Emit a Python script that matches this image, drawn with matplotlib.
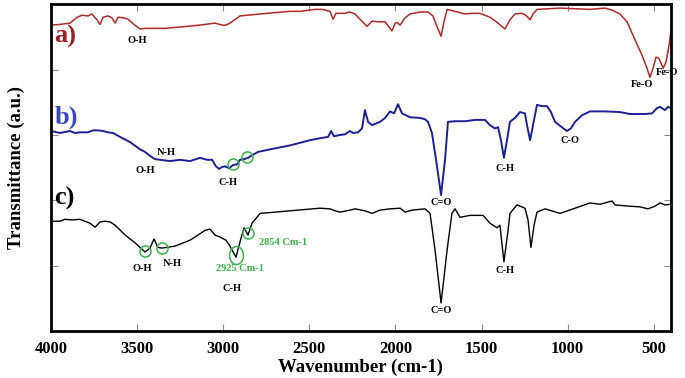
import matplotlib
matplotlib.use("Agg")
import matplotlib.pyplot as plt
from matplotlib.markers import MarkerStyle
from matplotlib.transforms import Affine2D

# ---- data (wavenumber, transmittance a.u.) ----
wn_a = [4000, 3948, 3890, 3849, 3820, 3785, 3762, 3733, 3715, 3698, 3669, 3646, 3628, 3611,
        3576, 3553, 3518, 3483, 3454, 3396, 3338, 3251, 3135, 3048, 3007, 2984, 2961, 2902,
        2786, 2612, 2554, 2496, 2467, 2426, 2380, 2362, 2345, 2293, 2264, 2235, 2206, 2165,
        2136, 2101, 2060, 2020, 2002, 1991, 1973, 1944, 1915, 1857, 1811, 1782, 1759, 1735,
        1718, 1700, 1654, 1596, 1555, 1509, 1451, 1404, 1364, 1335, 1306, 1265, 1242, 1218,
        1201, 1178, 1044, 870, 783, 742, 696, 655, 608, 568, 539, 522, 504, 487, 469, 446,
        429, 411, 400]
tr_a = [4.68, 4.69, 4.71, 4.80, 4.83, 4.82, 4.85, 4.76, 4.69, 4.80, 4.82, 4.79, 4.71, 4.80,
        4.79, 4.77, 4.69, 4.62, 4.63, 4.63, 4.63, 4.65, 4.68, 4.71, 4.68, 4.68, 4.71, 4.82,
        4.85, 4.89, 4.89, 4.91, 4.92, 4.92, 4.89, 4.77, 4.86, 4.86, 4.88, 4.85, 4.77, 4.66,
        4.74, 4.73, 4.73, 4.59, 4.71, 4.72, 4.68, 4.79, 4.85, 4.88, 4.88, 4.82, 4.66, 4.51,
        4.73, 4.92, 4.89, 4.85, 4.86, 4.86, 4.80, 4.71, 4.62, 4.76, 4.85, 4.86, 4.83, 4.76,
        4.85, 4.92, 4.94, 4.92, 4.94, 4.91, 4.85, 4.73, 4.45, 4.22, 4.02, 3.88, 4.02, 4.19,
        4.17, 4.02, 4.11, 4.37, 4.60]

wn_b = [4000, 3948, 3890, 3861, 3832, 3785, 3756, 3727, 3698, 3669, 3640, 3599, 3541, 3483,
        3454, 3425, 3396, 3367, 3309, 3251, 3193, 3135, 3094, 3065, 3042, 3024, 3007, 2990,
        2966, 2943, 2920, 2902, 2879, 2856, 2833, 2798, 2728, 2612, 2496, 2438, 2391, 2374,
        2357, 2322, 2293, 2264, 2246, 2217, 2194, 2177, 2159, 2136, 2090, 2060, 2031, 2008,
        1985, 1962, 1915, 1857, 1828, 1811, 1788, 1764, 1735, 1712, 1695, 1654, 1596, 1538,
        1480, 1451, 1422, 1404, 1387, 1370, 1352, 1335, 1306, 1277, 1248, 1236, 1218, 1201,
        1178, 1149, 1120, 1097, 1073, 1044, 1004, 981, 957, 917, 870, 783, 696, 638, 551,
        510, 481, 464, 435, 417, 400]
tr_b = [3.06, 3.03, 3.06, 3.03, 3.04, 3.04, 3.07, 3.07, 3.06, 3.04, 3.03, 2.97, 2.89, 2.78,
        2.74, 2.68, 2.63, 2.62, 2.60, 2.62, 2.60, 2.65, 2.62, 2.62, 2.52, 2.48, 2.51, 2.52,
        2.49, 2.54, 2.55, 2.62, 2.63, 2.65, 2.69, 2.74, 2.78, 2.84, 2.92, 2.95, 2.97, 3.06,
        2.98, 3.00, 3.01, 3.06, 3.03, 3.04, 3.10, 3.38, 3.20, 3.15, 3.20, 3.26, 3.36, 3.33,
        3.47, 3.33, 3.27, 3.26, 3.24, 3.20, 3.03, 2.62, 2.08, 2.62, 3.20, 3.21, 3.21, 3.23,
        3.23, 3.15, 3.10, 3.12, 2.92, 2.65, 2.92, 3.20, 3.26, 3.35, 3.33, 3.15, 2.92, 3.15,
        3.46, 3.44, 3.44, 3.35, 3.20, 3.14, 3.06, 3.10, 3.20, 3.30, 3.36, 3.36, 3.35, 3.32,
        3.32, 3.33, 3.41, 3.43, 3.38, 3.43, 3.41]

wn_c = [4000, 3948, 3919, 3878, 3832, 3803, 3774, 3744, 3715, 3686, 3657, 3628, 3570, 3512,
        3483, 3454, 3425, 3402, 3379, 3355, 3280, 3193, 3106, 3077, 3048, 3019, 2984, 2961,
        2926, 2897, 2879, 2856, 2833, 2786, 2612, 2438, 2380, 2351, 2322, 2264, 2235, 2177,
        2136, 2090, 2031, 1973, 1944, 1904, 1828, 1799, 1770, 1735, 1700, 1672, 1654, 1625,
        1567, 1491, 1451, 1410, 1393, 1370, 1346, 1335, 1294, 1248, 1230, 1213, 1195, 1178,
        1131, 1044, 957, 870, 812, 742, 725, 638, 580, 533, 493, 464, 435, 400]
tr_c = [1.68, 1.68, 1.71, 1.70, 1.71, 1.68, 1.65, 1.59, 1.67, 1.68, 1.67, 1.62, 1.47, 1.35,
        1.28, 1.21, 1.27, 1.41, 1.28, 1.27, 1.30, 1.39, 1.54, 1.56, 1.47, 1.44, 1.39, 1.30,
        1.13, 1.42, 1.58, 1.47, 1.65, 1.80, 1.84, 1.88, 1.87, 1.84, 1.82, 1.85, 1.87, 1.84,
        1.80, 1.85, 1.87, 1.88, 1.82, 1.85, 1.87, 1.80, 1.24, 0.43, 1.24, 1.80, 1.87, 1.74,
        1.77, 1.77, 1.65, 1.58, 1.62, 1.06, 1.54, 1.80, 1.93, 1.88, 1.70, 1.28, 1.62, 1.82,
        1.87, 1.80, 1.88, 1.96, 1.94, 1.99, 1.93, 1.91, 1.90, 1.87, 1.91, 1.96, 1.93, 1.94]

x_ticks = [4000, 3500, 3000, 2500, 2000, 1500, 1000, 500]

# ---- style ----
plt.rcParams['font.family'] = ['Liberation Serif', 'DejaVu Serif']
plt.rcParams['font.weight'] = 'bold'

RED = '#b02a2a'
BLUE = '#1f1f95'
GREEN = '#3cb34a'

fig = plt.figure(figsize=(6.85, 3.78), dpi=100)
ax = fig.add_axes([0.0745, 0.124, 0.905, 0.865])

ax.plot(wn_a, tr_a, color=RED, lw=1.1)
ax.plot(wn_b, tr_b, color=BLUE, lw=1.4)
ax.plot(wn_c, tr_c, color='black', lw=1.0)

ax.set_xlim(4000, 400)
ax.set_ylim(0, 5)
ax.set_xticks(x_ticks)
ax.set_xticklabels([str(t) for t in x_ticks], fontsize=12, fontweight='bold')
ax.set_yticks([1, 2, 3, 4])
ax.set_yticklabels([])
ax.tick_params(direction='in', length=5, width=0.8, color='#888888',
               top=True, right=True, pad=7)
for s in ax.spines.values():
    s.set_linewidth(2.0)

ax.set_xlabel('Wavenumber (cm-1)', fontsize=13.5, fontweight='bold', labelpad=1)
ax.set_ylabel('Transmittance (a.u.)', fontsize=13.5, fontweight='bold', labelpad=12)

# panel letters
ax.text(3980, 4.5, 'a)', color='#a01e22', fontsize=19, fontweight='bold', va='center', ha='left')
ax.text(3980, 3.27, 'b)', color='#3a48c0', fontsize=19, fontweight='bold', va='center', ha='left')
ax.text(3980, 2.03, 'c)', color='black', fontsize=19, fontweight='bold', va='center', ha='left')

lab = dict(fontsize=7.5, fontweight='bold', ha='center', va='center')
# a
ax.text(3500, 4.45, 'O-H', **lab)
ax.text(570, 3.77, 'Fe-O', **lab)
ax.text(420, 3.96, 'Fe-O', **lab)
# b
ax.text(3330, 2.73, 'N-H', **lab)
ax.text(3450, 2.46, 'O-H', **lab)
ax.text(2970, 2.28, 'C-H', **lab)
ax.text(1735, 1.96, 'C=O', **lab)
ax.text(1365, 2.49, 'C-H', **lab)
ax.text(985, 2.91, 'C-O', **lab)
# c
ax.text(3470, 0.96, 'O-H', **lab)
ax.text(3295, 1.04, 'N-H', **lab)
ax.text(2950, 0.65, 'C-H', **lab)
ax.text(1735, 0.32, 'C=O', **lab)
ax.text(1365, 0.92, 'C-H', **lab)
ax.text(2655, 1.36, '2854 Cm-1', color=GREEN, fontsize=7.5, fontweight='bold', ha='center', va='center')
ax.text(2900, 0.96, '2925 Cm-1', color=GREEN, fontsize=7.5, fontweight='bold', ha='center', va='center')

# green circles on selected peaks
circ_b_x = [2943, 2862]
circ_b_y = [2.55, 2.66]
circ_c_x = [3454, 3355, 2856]
circ_c_y = [1.23, 1.27, 1.50]
ax.plot(circ_b_x, circ_b_y, ls='none', marker='o', ms=8, mfc='none', mec=GREEN, mew=1.1)
ax.plot(circ_c_x, circ_c_y, ls='none', marker='o', ms=8, mfc='none', mec=GREEN, mew=1.1)
ell = MarkerStyle('o', transform=Affine2D().scale(1.0, 1.3))
ax.plot([2926], [1.16], ls='none', marker=ell, ms=10, mfc='none', mec=GREEN, mew=1.1)

fig.savefig('out.png', dpi=100)
